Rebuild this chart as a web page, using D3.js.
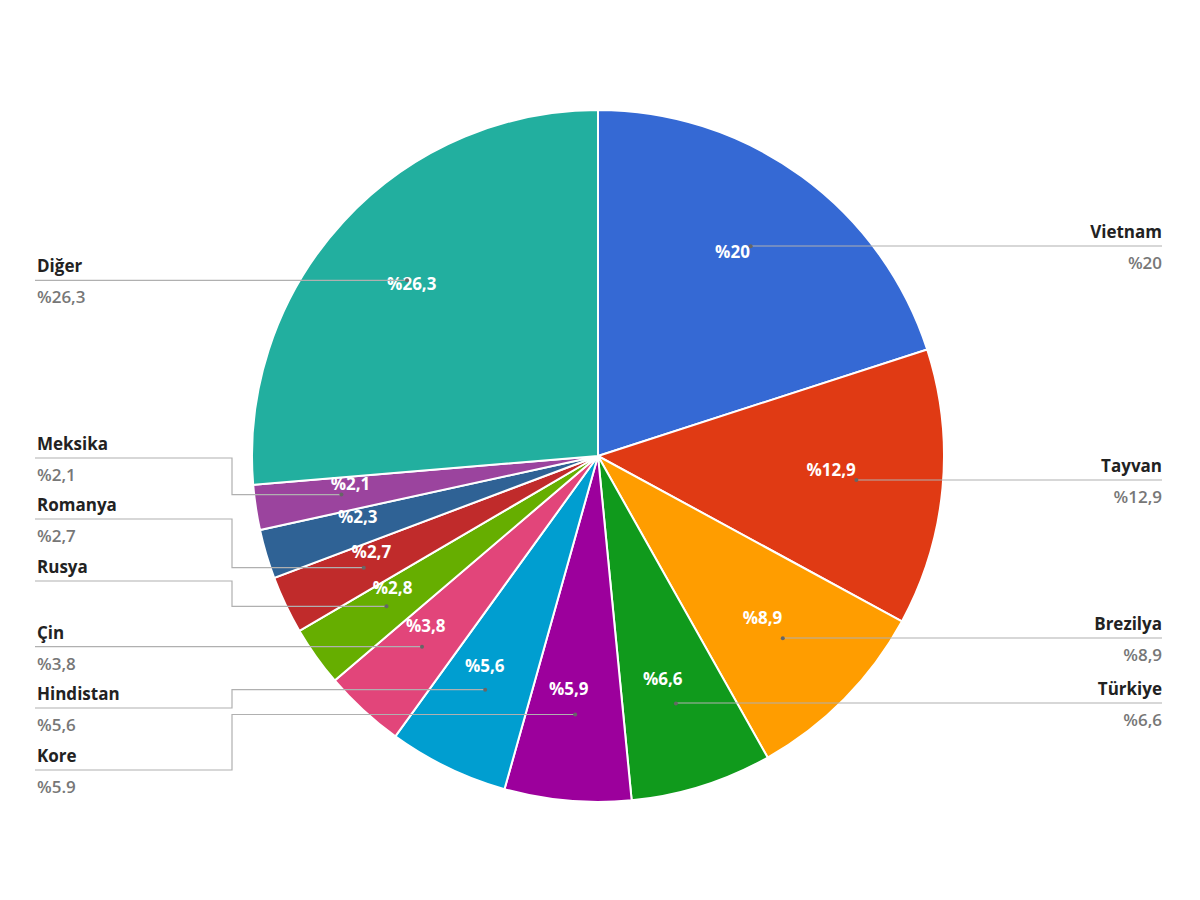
<!DOCTYPE html>
<html><head><meta charset="utf-8">
<script src="https://cdn.jsdelivr.net/npm/d3@7"></script>
<style>body{margin:0;background:#fff}svg{display:block}</style></head>
<body><svg id="c" width="1200" height="900"></svg>
<script>
const names  = ["Vietnam","Tayvan","Brezilya","Türkiye","Kore","Hindistan","Çin","Rusya","Romanya","","Meksika","Diğer"];
const values = [20,12.9,8.9,6.6,5.9,5.6,3.8,2.8,2.7,2.3,2.1,26.3];
const sliceLabels = ["%20","%12,9","%8,9","%6,6","%5,9","%5,6","%3,8","%2,8","%2,7","%2,3","%2,1","%26,3"];
const legendValues = ["%20","%12,9","%8,9","%6,6","%5.9","%5,6","%3,8","","%2,7","","%2,1","%26,3"];
const colors = ["#3569d4","#e03a14","#ff9d00","#109a1c","#9c009c","#009ed0","#e2457a","#66ae00","#c02b2b","#2f6295","#9b449e","#22af9f"];
// layout: leader-line y, side
const lineY = [246,480,638,703,770,708,647,581,519,null,458,280];
const side  = ["r","r","r","r","l","l","l","l","l",null,"l","l"];

const svg = d3.select("#c");
const cx=598, cy=456, R=346;
const g = svg.append("g").attr("transform",`translate(${cx},${cy})`);
const pie = d3.pie().sort(null).value(d=>d)(values);
const arc = d3.arc().innerRadius(0).outerRadius(R);
g.selectAll("path").data(pie).join("path").attr("d",arc)
  .attr("fill",(d,i)=>colors[i]).attr("stroke","#fff").attr("stroke-width",2);

const dotArc = d3.arc().innerRadius(R*0.75).outerRadius(R*0.75);
const txtArc = d3.arc().innerRadius(R*0.7).outerRadius(R*0.7);
const font = "'Open Sans', 'DejaVu Sans', sans-serif";

pie.forEach((d,i)=>{
  if(lineY[i]==null) return;
  const [dx,dy] = dotArc.centroid(d);
  const px=cx+dx, py=cy+dy;
  let pts;
  if(side[i]==="r"){
    pts=[[px,py],[px,lineY[i]],[1162,lineY[i]]];
  } else if(Math.abs(lineY[i]-py)<4){
    pts=[[px,py],[35,py]];
  } else {
    pts=[[px,py],[232,py],[232,lineY[i]],[35,lineY[i]]];
  }
  svg.append("path").attr("d",d3.line()(pts)).attr("fill","none")
    .attr("stroke","#b0b0b0").attr("stroke-width",1.2);
  svg.append("circle").attr("cx",px).attr("cy",py).attr("r",2).attr("fill","#666");
  const ly = side[i]==="r"||Math.abs(lineY[i]-py)>=4 ? lineY[i] : py;
  const tx = side[i]==="r"?1162:37, anchor=side[i]==="r"?"end":"start";
  svg.append("text").attr("x",tx).attr("y",ly-8).attr("text-anchor",anchor)
    .attr("font-family",font).attr("font-weight",700).attr("font-size",17).attr("fill","#222").text(names[i]);
  if(legendValues[i])
    svg.append("text").attr("x",tx).attr("y",ly+23).attr("text-anchor",anchor)
      .attr("font-family",font).attr("font-weight",600).attr("font-size",17).attr("fill","#777").text(legendValues[i]);
});

g.selectAll("text.sl").data(pie).join("text").attr("class","sl")
  .attr("transform",d=>{const c=txtArc.centroid(d);return `translate(${c[0]-8},${c[1]-8})`;})
  .attr("text-anchor","middle").attr("dy","0.35em")
  .attr("font-family",font).attr("font-weight",700).attr("font-size",17).attr("fill","#fff")
  .text((d,i)=>sliceLabels[i]);
</script></body></html>
